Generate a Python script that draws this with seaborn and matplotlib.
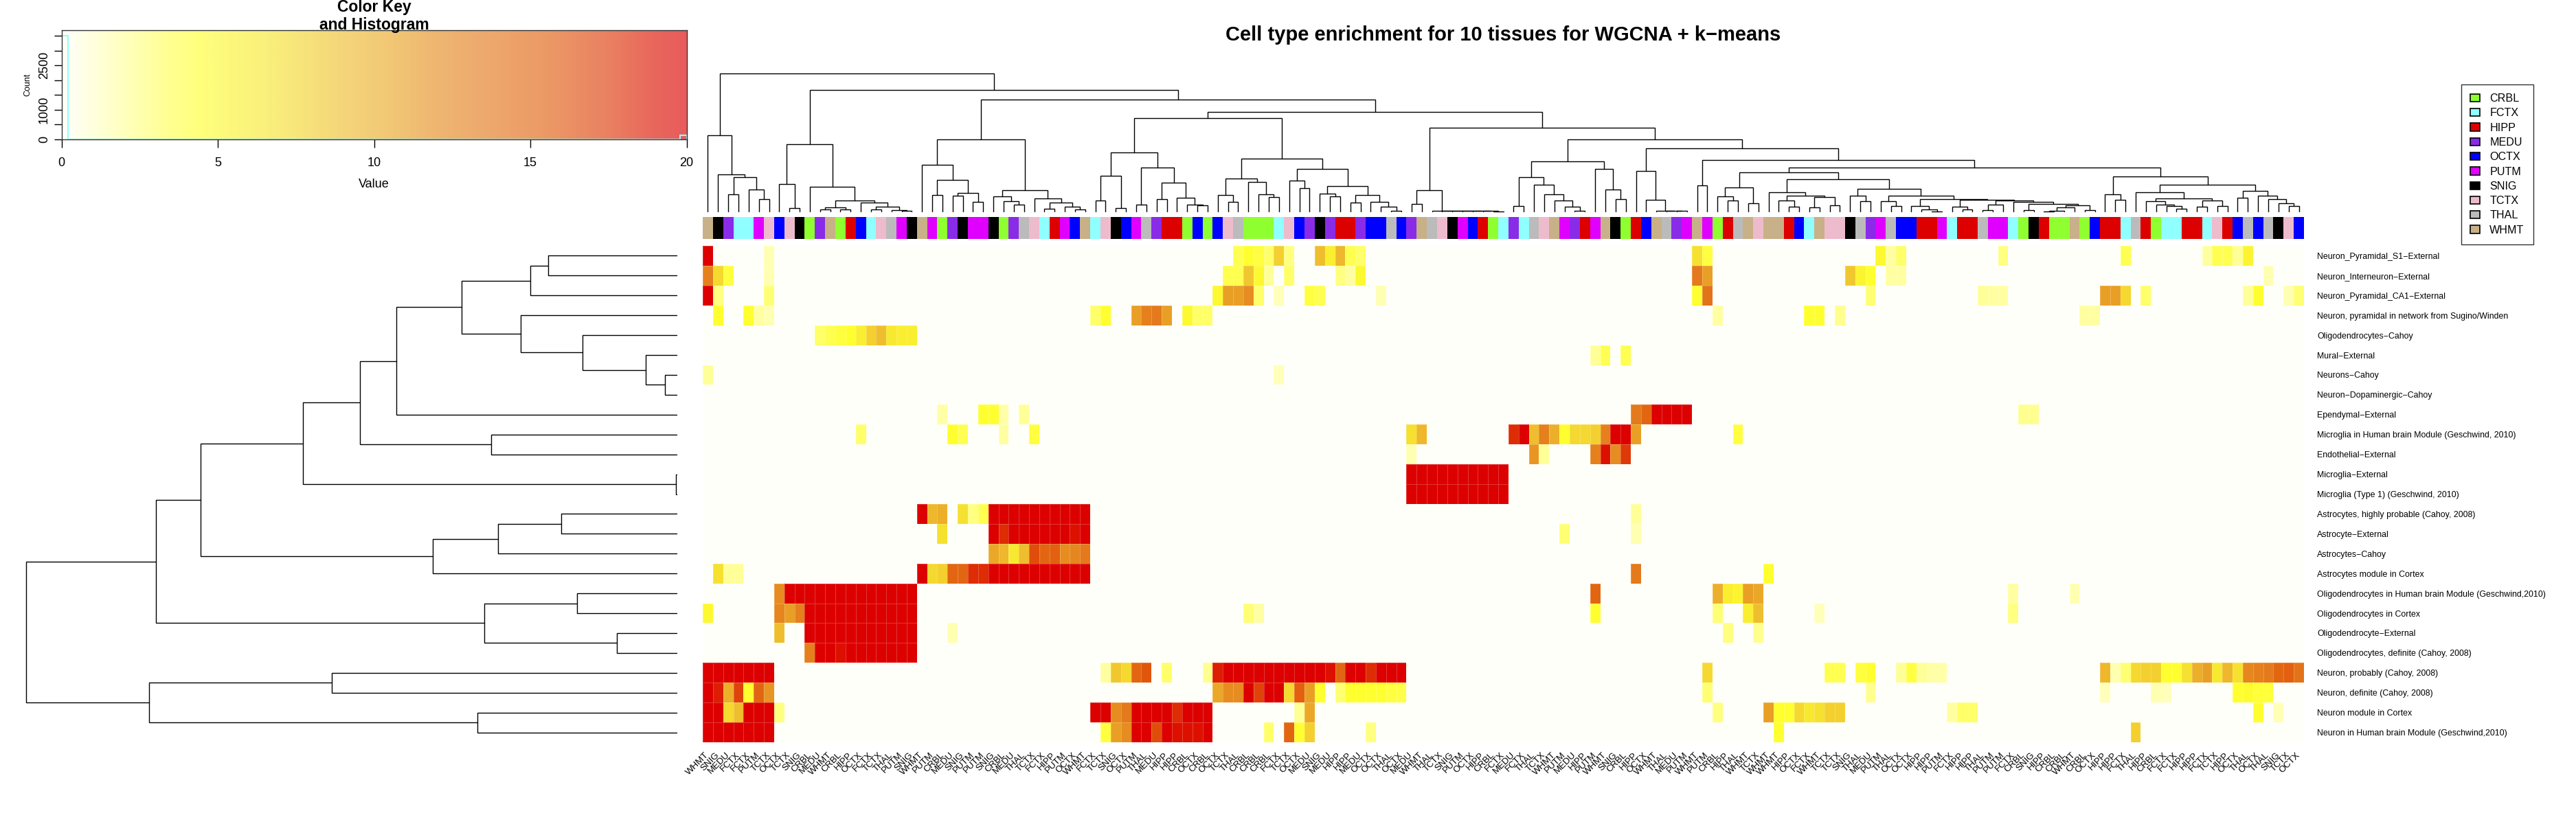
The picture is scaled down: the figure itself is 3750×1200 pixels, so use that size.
import numpy as np
import matplotlib
matplotlib.use('Agg')
import matplotlib.pyplot as plt
import seaborn as sns
from matplotlib.colors import LinearSegmentedColormap, ListedColormap
from matplotlib.patches import Patch

sns.set_theme(style='white')
plt.rcParams['font.family'] = ['Liberation Sans', 'DejaVu Sans']

W, H = 3750, 1200

tissues = ['CRBL', 'FCTX', 'HIPP', 'MEDU', 'OCTX', 'PUTM', 'SNIG', 'TCTX', 'THAL', 'WHMT']
tissue_colors = ['#90FF30', '#90FFFF', '#DD0000', '#8A2BE8', '#0000FF',
                 '#E000FF', '#000000', '#EEBBCC', '#BBBBBB', '#C8B088']

col_tissues = [
    'WHMT', 'SNIG', 'MEDU', 'FCTX', 'FCTX', 'PUTM', 'TCTX', 'OCTX', 'TCTX', 'SNIG',
    'CRBL', 'MEDU', 'WHMT', 'CRBL', 'HIPP', 'OCTX', 'FCTX', 'TCTX', 'THAL', 'PUTM',
    'SNIG', 'WHMT', 'PUTM', 'CRBL', 'MEDU', 'SNIG', 'PUTM', 'PUTM', 'SNIG', 'CRBL',
    'MEDU', 'THAL', 'TCTX', 'FCTX', 'HIPP', 'PUTM', 'OCTX', 'WHMT', 'FCTX', 'TCTX',
    'SNIG', 'OCTX', 'PUTM', 'THAL', 'MEDU', 'HIPP', 'HIPP', 'CRBL', 'OCTX', 'CRBL',
    'OCTX', 'TCTX', 'THAL', 'CRBL', 'CRBL', 'CRBL', 'FCTX', 'TCTX', 'OCTX', 'MEDU',
    'SNIG', 'MEDU', 'HIPP', 'HIPP', 'MEDU', 'OCTX', 'OCTX', 'THAL', 'OCTX', 'MEDU',
    'WHMT', 'THAL', 'TCTX', 'SNIG', 'PUTM', 'OCTX', 'HIPP', 'CRBL', 'FCTX', 'MEDU',
    'FCTX', 'THAL', 'TCTX', 'WHMT', 'PUTM', 'MEDU', 'HIPP', 'PUTM', 'WHMT', 'SNIG',
    'CRBL', 'HIPP', 'OCTX', 'WHMT', 'THAL', 'MEDU', 'PUTM', 'WHMT', 'PUTM', 'CRBL',
    'HIPP', 'THAL', 'WHMT', 'TCTX', 'WHMT', 'WHMT', 'HIPP', 'OCTX', 'FCTX', 'WHMT',
    'TCTX', 'TCTX', 'SNIG', 'THAL', 'MEDU', 'PUTM', 'THAL', 'OCTX', 'OCTX', 'HIPP',
    'HIPP', 'PUTM', 'FCTX', 'HIPP', 'HIPP', 'THAL', 'PUTM', 'PUTM', 'FCTX', 'CRBL',
    'SNIG', 'HIPP', 'CRBL', 'CRBL', 'WHMT', 'CRBL', 'OCTX', 'HIPP', 'HIPP', 'FCTX',
    'THAL', 'HIPP', 'CRBL', 'FCTX', 'FCTX', 'HIPP', 'HIPP', 'FCTX', 'TCTX', 'HIPP',
    'OCTX', 'THAL', 'OCTX', 'THAL', 'SNIG', 'TCTX', 'OCTX']

row_labels = [
    'Neuron_Pyramidal_S1\u2212External', 'Neuron_Interneuron\u2212External',
    'Neuron_Pyramidal_CA1\u2212External', 'Neuron, pyramidal in network from Sugino/Winden',
    'Oligodendrocytes\u2212Cahoy', 'Mural\u2212External', 'Neurons\u2212Cahoy',
    'Neuron\u2212Dopaminergic\u2212Cahoy', 'Ependymal\u2212External',
    'Microglia in Human brain Module (Geschwind, 2010)', 'Endothelial\u2212External',
    'Microglia\u2212External', 'Microglia (Type 1) (Geschwind, 2010)',
    'Astrocytes, highly probable (Cahoy, 2008)', 'Astrocyte\u2212External',
    'Astrocytes\u2212Cahoy', 'Astrocytes module in Cortex',
    'Oligodendrocytes in Human brain Module (Geschwind,2010)', 'Oligodendrocytes in Cortex',
    'Oligodendrocyte\u2212External', 'Oligodendrocytes, definite (Cahoy, 2008)',
    'Neuron, probably (Cahoy, 2008)', 'Neuron, definite (Cahoy, 2008)',
    'Neuron module in Cortex', 'Neuron in Human brain Module (Geschwind,2010)']

# enrichment per row: column number -> value, everything else is 0
pyr_s1 = {0: 20, 6: 1.5, 52: 3.5, 53: 4.5, 54: 4, 55: 3, 56: 8, 57: 2.5, 60: 9, 61: 6, 62: 9.5, 63: 3.5,
          64: 3, 97: 7, 98: 4, 115: 5, 116: 1.8, 117: 3, 127: 2.5, 139: 3.5, 147: 1.8, 148: 3.5,
          149: 3.5, 150: 2, 151: 5.5}
interneuron = {0: 13, 1: 7.5, 2: 4, 6: 1.5, 51: 3.5, 52: 3.5, 53: 8.5, 54: 5, 55: 2, 57: 3, 62: 2.5, 63: 1.8,
               64: 5, 97: 13.5, 98: 11, 112: 8.5, 113: 5.5, 114: 4.5, 116: 1.8, 117: 1.8, 153: 1.5}
pyr_ca1 = {0: 20, 1: 2.5, 6: 2.8, 50: 5, 51: 11, 52: 11, 53: 12, 54: 3, 56: 1.3, 59: 4, 60: 3.5, 66: 1.5,
           97: 4.5, 98: 14, 114: 2.8, 125: 2, 126: 1.8, 127: 1.8, 137: 11, 138: 11, 139: 7.5, 141: 3,
           151: 2, 152: 4.5, 155: 1.5, 156: 2.8}
pyr_network = {1: 4.5, 4: 4.5, 5: 1.8, 6: 1.5, 38: 3, 39: 4.5, 42: 11, 43: 13, 44: 13.5, 45: 11, 47: 5, 48: 3,
               49: 3, 99: 1.8, 108: 4.5, 109: 4.5, 111: 2.2, 135: 1.8, 136: 1.8}
oligo_cahoy = {11: 3, 12: 3.5, 13: 4, 14: 4.5, 15: 6, 16: 8, 17: 9, 18: 6.5, 19: 6, 20: 6}
mural = {87: 2, 88: 3.5, 90: 3.5}
neurons_cahoy = {0: 2, 56: 1.3}
dopaminergic = {}
ependymal = {23: 1.7, 27: 4.5, 28: 4.5, 29: 1.7, 31: 2, 91: 13.5, 92: 15, 93: 20, 94: 20, 95: 20, 96: 20,
             129: 2.2, 130: 2.2}
microglia_module = {15: 3, 24: 4.5, 25: 3.5, 29: 1.8, 32: 4, 69: 7, 70: 9.5, 79: 18, 80: 20, 81: 9, 82: 13, 83: 10,
                    84: 4.5, 85: 7.5, 86: 7.5, 87: 8, 88: 13, 89: 20, 90: 20, 91: 11, 101: 4}
endothelial = {69: 1.5, 81: 11.5, 82: 2, 87: 13, 88: 19, 89: 12, 90: 17.5}
microglia_ext = {69: 20, 70: 20, 71: 20, 72: 20, 73: 20, 74: 20, 75: 20, 76: 20, 77: 20, 78: 20}
microglia_type1 = {69: 20, 70: 20, 71: 20, 72: 20, 73: 20, 74: 20, 75: 20, 76: 20, 77: 20, 78: 20}
astro_probable = {21: 20, 22: 9.5, 23: 10, 25: 7, 26: 2.5, 27: 3.5, 28: 20, 29: 20, 30: 20, 31: 20, 32: 20,
                  33: 20, 34: 20, 35: 20, 36: 20, 37: 20, 91: 2}
astro_ext = {23: 7, 28: 20, 29: 18, 30: 20, 31: 20, 32: 20, 33: 20, 34: 20, 35: 20, 36: 19, 37: 20, 84: 2.8, 91: 1.5}
astro_cahoy = {28: 10.5, 29: 9.5, 30: 6.5, 31: 9, 32: 16.5, 33: 15, 34: 15.5, 35: 12, 36: 12.5, 37: 13.5}
astro_module = {1: 7, 2: 2, 3: 2, 21: 20, 22: 7.5, 23: 8, 24: 15, 25: 15, 26: 18, 27: 18, 28: 20, 29: 20, 30: 20,
                31: 20, 32: 20, 33: 20, 34: 20, 35: 20, 36: 20, 37: 20, 91: 13.5, 104: 4.5}
oligo_module = {7: 12, 8: 20, 9: 20, 10: 20, 11: 20, 12: 20, 13: 20, 14: 20, 15: 20, 16: 20, 17: 20, 18: 20, 19: 20,
                20: 20, 87: 15, 99: 10, 100: 6, 101: 5.5, 102: 11, 103: 10.5, 128: 1.8, 134: 1.5}
oligo_cortex = {0: 5, 7: 12.5, 8: 11, 9: 13, 10: 20, 11: 20, 12: 20, 13: 20, 14: 20, 15: 20, 16: 20, 17: 20, 18: 20,
                19: 20, 20: 20, 53: 2.8, 54: 1.8, 87: 4.5, 99: 2.8, 102: 6, 103: 9, 109: 1.3, 128: 2.5}
oligo_ext = {7: 9, 10: 20, 11: 20, 12: 20, 13: 20, 14: 20, 15: 20, 16: 20, 17: 20, 18: 20, 19: 20, 20: 20, 24: 1.5,
             100: 2.5, 103: 2.2}
oligo_definite = {10: 13, 11: 20, 12: 20, 13: 19, 14: 20, 15: 20, 16: 20, 17: 20, 18: 20, 19: 20, 20: 20}
neuron_probably = {0: 20, 1: 20, 2: 20, 3: 20, 4: 20, 5: 20, 6: 20, 39: 1.8, 40: 8.5, 41: 7.5, 42: 15, 43: 16, 45: 3,
                   49: 2.2, 50: 18.5, 51: 20, 52: 20, 53: 20, 54: 20, 55: 20, 56: 20, 57: 20, 58: 20, 59: 20, 60: 20,
                   61: 19, 62: 15, 63: 20, 64: 20, 65: 18, 66: 20, 67: 20, 68: 20, 98: 7.5, 110: 3.5, 111: 3.5,
                   113: 4, 114: 4.5, 117: 2, 118: 4, 119: 2, 120: 1.7, 121: 1.7, 137: 9.5, 138: 1.5, 139: 2.8,
                   140: 7.5, 141: 8, 142: 8, 143: 4.5, 144: 4.5, 145: 7, 146: 10, 147: 11, 148: 6.5, 149: 9.5,
                   150: 7, 151: 12.5, 152: 13, 153: 13.5, 154: 15, 155: 15.5, 156: 14}
neuron_definite = {0: 20, 1: 18.5, 2: 10, 3: 17, 4: 4.5, 5: 15, 6: 11.5, 50: 10.5, 51: 12, 52: 12, 53: 20, 54: 17,
                   55: 20, 56: 20, 57: 7.5, 58: 15.5, 59: 11, 60: 4.5, 62: 2.8, 63: 4.5, 64: 4.5, 65: 4.5, 66: 4.5,
                   67: 4, 68: 3.8, 98: 2.8, 114: 2.2, 137: 1.3, 142: 1.5, 143: 1.3, 150: 4.5, 151: 4.8, 152: 4.2,
                   153: 4.2}
neuron_cortex = {0: 20, 1: 20, 2: 7.5, 3: 9, 4: 20, 5: 20, 6: 20, 7: 2.5, 38: 20, 39: 20, 40: 12, 41: 13.5, 42: 20,
                 43: 20, 44: 20, 45: 20, 46: 18, 47: 20, 48: 20, 49: 20, 58: 2, 59: 10.5, 99: 2.5, 104: 11, 105: 4.5,
                 106: 4.5, 107: 7.5, 108: 6.5, 109: 7, 110: 8, 111: 8, 122: 1.8, 123: 3, 124: 3, 152: 4.5, 154: 1.4}
neuron_module = {0: 20, 1: 20, 2: 20, 3: 20, 4: 20, 5: 20, 6: 20, 39: 4, 40: 11, 41: 12, 42: 20, 43: 20, 44: 16.5,
                 45: 20, 46: 19, 47: 19, 48: 19, 49: 20, 55: 3, 57: 15, 58: 4.5, 59: 8, 65: 2.5, 105: 4.5, 140: 8}

heat_rows = [pyr_s1, interneuron, pyr_ca1, pyr_network, oligo_cahoy, mural, neurons_cahoy, dopaminergic,
             ependymal, microglia_module, endothelial, microglia_ext, microglia_type1, astro_probable,
             astro_ext, astro_cahoy, astro_module, oligo_module, oligo_cortex, oligo_ext, oligo_definite,
             neuron_probably, neuron_definite, neuron_cortex, neuron_module]

# merge trees: (height, left, right), L is a leaf
L = None
clade_a = (334, L, (163, L, (152, (74, L, L), (97, L, (54, L, L)))))
clade_b = (294, (120, L, (14, L, L)),
           (107, L, (48, (18, (8, L, L), (10, L, L)),
                     (38, L, (22, (9, L, L), (7, L, (2, L, L)))))))
clade_c = (315, (204, L, (139, (72, L, L), (80, (68, L, L), (43, L, L)))),
           (92, (67, L, (44, L, (31, L, L))),
            (56, L, (38, (11, L, L), (21, L, (9, L, L))))))
clade_d = (260, (157, (49, L, L), (14, L, L)),
           (194, (29, L, L), (126, (55, L, L), (60, L, (31, L, (26, L, L))))))
clade_e = (233, (145, (71, L, (41, L, L)), (128, L, (75, L, (62, L, L)))),
           (186, (134, L, (102, L, L)),
            (110, (79, L, (65, L, L)),
             (73, (38, L, L), (41, L, (20, L, (4, L, L)))))))
microglia_ladder = (3, L, (3, L, (3, L, (2, L, (2, L, (2, L, (1, L, L)))))))
ependymal_ladder = (3, L, (3, L, (2, L, L)))
tail_f = (54, (23, L, (9, L, (1, L, L))),
          (51, (21, L, (9, L, L)),
           (47, (29, (5, L, L), L),
            (42, L, (34, (7, L, L), (26, (17, (2, (1, L, L), L), L), (5, L, L)))))))
clade_f = (368, (92, (34, L, L), microglia_ladder),
           (315,
            (220, (152, (25, L, L), (117, L, (74, L, (48, L, (22, L, (3, L, L)))))),
             (188, L, (95, L, (55, L, L)))),
            (277, (179, L, (51, L, ependymal_ladder)),
             (225, (115, L, L),
              (192,
               (173, (104, (65, L, (49, L, L)), (35, L, L)),
                (140, (85, L, (70, (48, L, (21, L, L)), (63, (18, L, L), (26, L, L)))),
                 (99, (68, L, (45, L, L)), (69, (45, L, (25, L, L)), tail_f)))),
               (155, (75, L, (51, L, L)),
                (118,
                 (85, L, (56, (44, L, (30, L, (23, L, (13, L, L)))), (47, (20, L, L), (25, L, L)))),
                 (89, (61, L, L), (70, L, (55, L, (35, L, (23, L, L))))))))))))
col_tree = (605, clade_a, (533, clade_b, (492, clade_c, (437, (408, clade_d, clade_e), clade_f))))
row_tree = (1429,
            (1144,
             (1046,
              (821,
               (695,
                (615,
                 (472, (321, (282, L, L), L), (342, L, (206, L, (68, L, (26, L, L))))),
                 L),
                (407, L, L)),
               (1, L, L)),
              (536, (392, (253, L, L), L), L)),
             (422, (219, L, L), (131, L, L))),
            (1159, (757, L, L), (437, L, L)))

# colour key histogram
hist_edges = [0, 0.2, 19.8, 20]
hist_counts = [3510, 8, 147]
key_top = 3684

heat_colors = [(0, '#FFFFF9'), (1, '#FFFFC8'), (1.5, '#FFFFB0'), (2.5, '#FFFF80'), (3.5, '#FFFF50'),
               (4.5, '#FFFF30'), (6.5, '#F8E830'), (7.5, '#F5D830'), (9, '#EFBE2E'), (10.5, '#EBA828'),
               (12, '#E68C20'), (13.5, '#E47A1C'), (15.5, '#E2600F'), (17.5, '#DE3A08'), (19, '#DD1000'),
               (20, '#DC0000')]
heat_cmap = LinearSegmentedColormap.from_list('heat', [(v / 20, c) for v, c in heat_colors], N=512)

heat = np.zeros((len(heat_rows), len(col_tissues)))
for r, row in enumerate(heat_rows):
    for c, v in row.items():
        heat[r, c] = v
codes = np.array([[tissues.index(t) for t in col_tissues]])


def px_axes(x0, y0, x1, y1):
    return fig.add_axes([x0 / W, 1 - y1 / H, (x1 - x0) / W, (y1 - y0) / H])


def walk(node, segs, next_leaf):
    # returns position and height of node, collects the three-sided links
    if node is None:
        next_leaf[0] += 1
        return next_leaf[0] - 0.5, 0
    h, left, right = node
    xl, hl = walk(left, segs, next_leaf)
    xr, hr = walk(right, segs, next_leaf)
    segs.append(([xl, xl, xr, xr], [hl, h, h, hr]))
    return (xl + xr) / 2, h


fig = plt.figure(figsize=(W / 100, H / 100), dpi=100, facecolor='white')

# main heatmap, the faint white grid only shows on coloured cells
ax = px_axes(1023, 358, 3354, 1081)
sns.heatmap(heat, ax=ax, cmap=heat_cmap, vmin=0, vmax=20, cbar=False,
            linewidths=0.5, linecolor=(1, 1, 1, 0.22),
            xticklabels=col_tissues, yticklabels=row_labels)
ax.yaxis.tick_right()
ax.tick_params(axis='y', length=0, pad=14, labelsize=8.9, labelcolor='black', labelrotation=0)
ax.tick_params(axis='x', length=0, pad=12, labelsize=9.5, labelcolor='black')
plt.setp(ax.get_xticklabels(), rotation=45, ha='right', va='center', rotation_mode='anchor')

# tissue strip
strip = px_axes(1023, 316, 3354, 348)
sns.heatmap(codes, ax=strip, cmap=ListedColormap(tissue_colors), vmin=-0.5, vmax=9.5, cbar=False,
            xticklabels=False, yticklabels=False)

# column dendrogram
top = px_axes(1023, 107, 3354, 308)
segs = []
walk(col_tree, segs, [0])
for xs, hs in segs:
    top.plot(xs, hs, color='black', lw=1.0, solid_joinstyle='miter', clip_on=False)
top.set_xlim(0, len(col_tissues))
top.set_ylim(0, col_tree[0])
top.axis('off')

# row dendrogram
side = px_axes(38, 358, 985, 1081)
segs = []
walk(row_tree, segs, [0])
for ys, hs in segs:
    side.plot(hs, ys, color='black', lw=1.0, solid_joinstyle='miter', clip_on=False)
side.set_xlim(row_tree[0], 0)
side.set_ylim(len(heat_rows), 0)
side.axis('off')

# colour key
key = px_axes(89.5, 44, 999.5, 203)
gradient = np.linspace(0, 20, 400)[None, :]
key.imshow(gradient, extent=[0, 20, 0, key_top], origin='lower', aspect='auto', cmap=heat_cmap,
           vmin=0, vmax=20, alpha=0.64)
key.stairs(hist_counts, hist_edges, color='#90FFFF', lw=1.5)
key.set_xlim(0, 20)
key.set_ylim(0, key_top)
key.set_xticks([0, 5, 10, 15, 20])
key.set_yticks([0, 500, 1000, 1500, 2000, 2500, 3000, 3500])
key.set_yticklabels(['0', '', '1000', '', '', '2500', '', ''], rotation=90, va='center')
key.tick_params(axis='x', length=8.5, width=1, color='black', labelsize=13, labelcolor='black', pad=10, bottom=True)
key.tick_params(axis='y', length=8, width=1, color='black', labelsize=13, labelcolor='black', pad=4, left=True)
for s in key.spines.values():
    s.set_color('#333333')
    s.set_linewidth(1)
key.set_xlabel('Value', fontsize=13, color='black', labelpad=10)
fig.text(40 / W, 1 - 123 / H, 'Count', rotation=90, fontsize=9, color='black', ha='center', va='center')
fig.text(545 / W, 1 - 10 / H, 'Color Key', fontsize=16.5, fontweight='bold', color='black', ha='center', va='center')
fig.text(545 / W, 1 - 37 / H, 'and Histogram', fontsize=16.5, fontweight='bold', color='black', ha='center',
         va='center')

fig.text(2188 / W, 1 - 51 / H, 'Cell type enrichment for 10 tissues for WGCNA + k\u2212means', fontsize=21,
         fontweight='bold', color='black', ha='center', va='center')

# tissue legend
handles = [Patch(facecolor=c, edgecolor='black', lw=1.2) for c in tissue_colors]
fig.legend(handles, tissues, loc='upper left', bbox_to_anchor=(3583 / W, 1 - 123 / H), borderaxespad=0,
           fontsize=11.6, frameon=True, fancybox=False, edgecolor='#333333', framealpha=1,
           handlelength=0.85, handleheight=0.7, handletextpad=0.9, labelspacing=0.39, borderpad=0.82,
           labelcolor='black')

fig.savefig('out.png', dpi=100)
